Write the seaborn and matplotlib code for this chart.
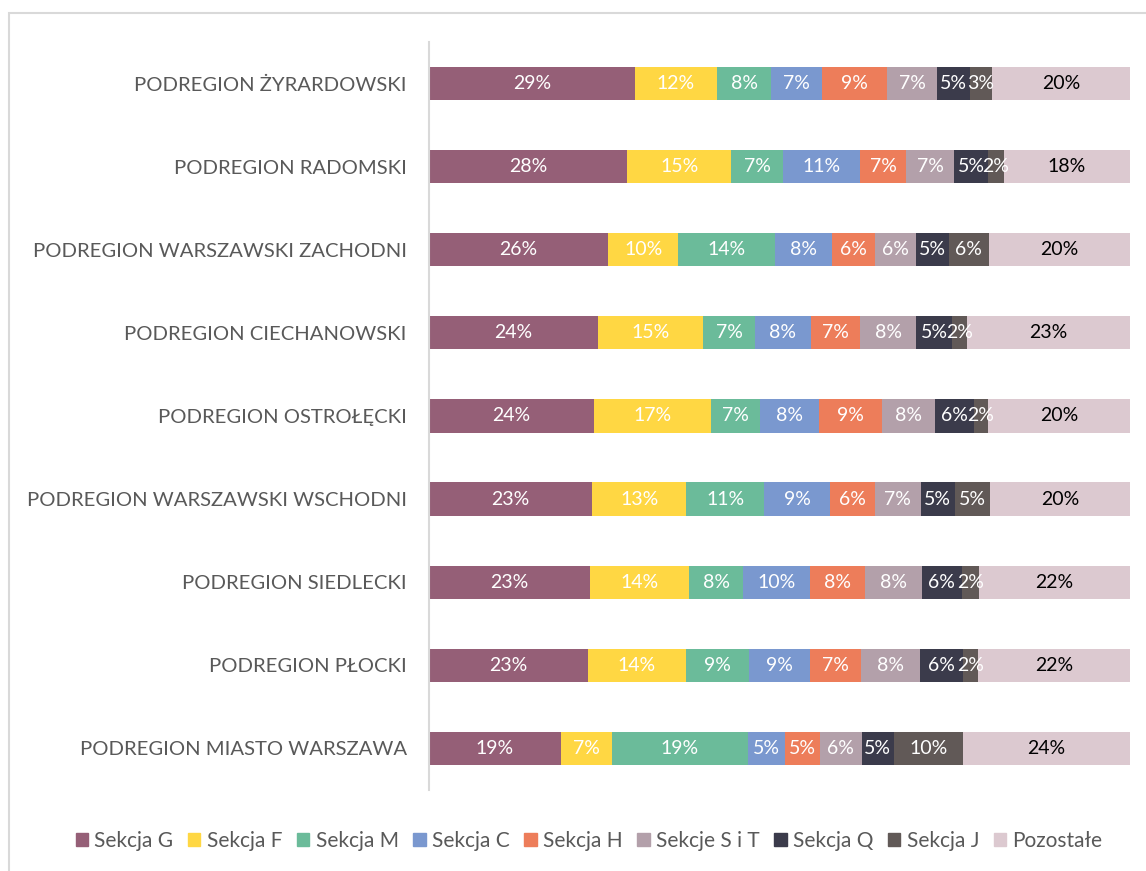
import matplotlib
matplotlib.use("Agg")
import matplotlib.pyplot as plt
import matplotlib.patches as mpatches
import seaborn as sns
import pandas as pd
import numpy as np

# --------------------------
# Data (top to bottom)
# --------------------------
regions = [
    "PODREGION ŻYRARDOWSKI",
    "PODREGION RADOMSKI",
    "PODREGION WARSZAWSKI ZACHODNI",
    "PODREGION CIECHANOWSKI",
    "PODREGION OSTROŁĘCKI",
    "PODREGION WARSZAWSKI WSCHODNI",
    "PODREGION SIEDLECKI",
    "PODREGION PŁOCKI",
    "PODREGION MIASTO WARSZAWA",
]
sections = ["Sekcja G", "Sekcja F", "Sekcja M", "Sekcja C", "Sekcja H",
            "Sekcje S i T", "Sekcja Q", "Sekcja J", "Pozostałe"]

sekcja_g = [29.3, 28.3, 25.6, 24.1, 23.6, 23.3, 23.0, 22.6, 18.8]
sekcja_f = [11.8, 14.8, 10.0, 14.9, 16.7, 13.3, 14.1, 14.1, 7.3]
sekcja_m = [7.6, 7.4, 13.8, 7.4, 7.0, 11.2, 7.7, 8.9, 19.4]
sekcja_c = [7.3, 11.0, 8.1, 7.9, 8.4, 9.3, 9.6, 8.7, 5.4]
sekcja_h = [9.3, 6.6, 6.2, 7.0, 9.0, 6.4, 7.8, 7.3, 4.9]
sekcje_s_t = [7.1, 6.8, 5.8, 8.0, 7.6, 6.6, 8.1, 8.4, 6.0]
sekcja_q = [4.7, 4.9, 4.7, 5.1, 5.6, 4.8, 5.7, 6.1, 4.6]
sekcja_j = [3.1, 2.2, 5.8, 2.1, 2.0, 5.0, 2.4, 2.2, 9.8]
pozostale = [19.7, 18.0, 20.1, 23.2, 20.3, 20.0, 21.6, 21.6, 23.9]

colors = ["#955F77", "#FFD743", "#6BBB9A", "#7A98CF", "#ED7D5A",
          "#B3A0AA", "#3B3B4B", "#615957", "#DCC9D0"]
text_colors = ["white"] * 8 + ["black"]

df = pd.DataFrame(
    [sekcja_g, sekcja_f, sekcja_m, sekcja_c, sekcja_h,
     sekcje_s_t, sekcja_q, sekcja_j, pozostale],
    index=sections, columns=regions).T

# 100% stacked -> normalise each row
share = df.div(df.sum(axis=1), axis=0) * 100
cum = share.cumsum(axis=1)

# --------------------------
# Plot
# --------------------------
sns.set_style("white")
plt.rcParams['font.family'] = ['Lato', 'DejaVu Sans']

fig = plt.figure(figsize=(11.46, 8.71), dpi=100)
ax = fig.add_axes([0.3743, 0.093, 0.6117, 0.8588])

# stacking trick: draw cumulative totals from the widest to the narrowest
for i in range(len(sections) - 1, -1, -1):
    sec = sections[i]
    plot_df = pd.DataFrame({"region": regions, "value": cum[sec].values})
    sns.barplot(data=plot_df, x="value", y="region", order=regions,
                color=colors[i], width=0.4, saturation=1, ax=ax,
                edgecolor="none", linewidth=0)

# data labels
for r, reg in enumerate(regions):
    for i, sec in enumerate(sections):
        center = cum.loc[reg, sec] - share.loc[reg, sec] / 2
        ax.text(center, r, f"{df.loc[reg, sec]:.0f}%", ha="center", va="center",
                fontsize=14, color=text_colors[i])

ax.set_xlim(0, 100)
ax.set_ylim(len(regions) - 0.5, -0.5)
ax.set_xlabel("")
ax.set_ylabel("")
ax.set_xticks([])
ax.tick_params(axis="y", length=0, pad=16, labelsize=14.6, labelcolor="#595959")
for s in ["top", "right", "bottom"]:
    ax.spines[s].set_visible(False)
ax.spines["left"].set_color("#D9D9D9")
ax.spines["left"].set_linewidth(1.5)

# legend
handles = [mpatches.Patch(color=c, label=s) for c, s in zip(colors, sections)]
leg = fig.legend(handles=handles, loc="center", bbox_to_anchor=(0.514, 1 - 841 / 871),
                 ncol=9, frameon=False, fontsize=15, handlelength=0.6,
                 handleheight=0.6, handletextpad=0.3, columnspacing=0.7)
for t in leg.get_texts():
    t.set_color("#595959")

# outer chart frame
frame = mpatches.Rectangle((9 / 1146, -0.05), 1.1, 1 - 13 / 871 + 0.05,
                           transform=fig.transFigure, fill=False,
                           edgecolor="#D9D9D9", linewidth=1.5)
fig.patches.append(frame)

fig.savefig("out.png", dpi=100)
